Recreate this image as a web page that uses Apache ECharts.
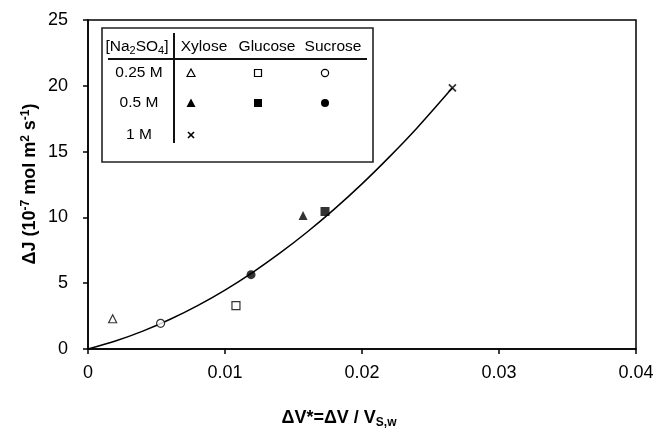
<!DOCTYPE html>
<html>
<head>
<meta charset="utf-8">
<script src="https://cdn.jsdelivr.net/npm/echarts@6/dist/echarts.min.js"></script>
<style>
  html, body { margin: 0; padding: 0; background: #fff; }
  #chart { width: 658px; height: 430px; }
</style>
</head>
<body>
<div id="chart"></div>
<script>
// Flux increase ΔJ against relative volume change ΔV*, per sugar and Na2SO4 concentration
const sugars = ['Xylose', 'Glucose', 'Sucrose'];
const concentrations = ['0.25 M', '0.5 M', '1 M'];

// [ΔV*, ΔJ] pairs
const xylose025 = [[0.0018, 2.3]];
const glucose025 = [[0.0108, 3.3]];
const sucrose025 = [[0.0053, 1.95]];
const xylose05 = [[0.0157, 10.15]];
const glucose05 = [[0.0173, 10.45]];
const sucrose05 = [[0.0119, 5.65]];
const xylose1 = [[0.0266, 19.85]];

// trend curve
const curveX = [0, 0.002, 0.004, 0.006, 0.008, 0.010, 0.012, 0.014, 0.016, 0.018, 0.020, 0.022, 0.024, 0.0266];
const curveY = [0, 0.61, 1.36, 2.26, 3.3, 4.48, 5.81, 7.28, 8.89, 10.65, 12.55, 14.6, 16.78, 19.85];

const xTicks = [0, 0.01, 0.02, 0.03, 0.04];
const yTicks = [0, 5, 10, 15, 20, 25];

const chart = echarts.init(document.getElementById('chart'), null, { renderer: 'canvas' });

const FONT = '"Liberation Sans", Arial, sans-serif';
const crossPath = 'path://M0,0L10,10M10,0L0,10';

function openStyle() {
  return { color: '#fff', borderColor: '#000', borderWidth: 1.2 };
}
function filledStyle() {
  return { color: '#000' };
}

// key table drawn inside the plot area
const box = { left: 102, top: 28, right: 373, bottom: 162 };
const colX = [191, 258, 325];
const rowY = [73, 103, 135];
const headerY = 47;

const tableText = { fontFamily: FONT, fontSize: 15.5, fill: '#000', align: 'center', verticalAlign: 'middle' };

const graphics = [
  { type: 'rect', shape: { x: box.left, y: box.top, width: box.right - box.left, height: box.bottom - box.top },
    style: { fill: '#fff', stroke: '#222', lineWidth: 1.6 }, z: 10 },
  { type: 'line', shape: { x1: 108, y1: 59, x2: 367, y2: 59 }, style: { stroke: '#111', lineWidth: 2 }, z: 11 },
  { type: 'line', shape: { x1: 174, y1: 33, x2: 174, y2: 143 }, style: { stroke: '#111', lineWidth: 2 }, z: 11 },
  { type: 'text', x: 137, y: headerY, z: 11,
    style: Object.assign({}, tableText, {
      text: '[Na{sub|2}SO{sub|4}]',
      rich: { sub: { fontFamily: FONT, fontSize: 11, padding: [8, 0, 0, 0] } }
    }) },
  { type: 'text', x: 204, y: headerY, z: 11, style: Object.assign({}, tableText, { text: sugars[0] }) },
  { type: 'text', x: 267, y: headerY, z: 11, style: Object.assign({}, tableText, { text: sugars[1] }) },
  { type: 'text', x: 333, y: headerY, z: 11, style: Object.assign({}, tableText, { text: sugars[2] }) }
];
concentrations.forEach(function (c, i) {
  graphics.push({ type: 'text', x: 139, y: rowY[i], z: 11, style: Object.assign({}, tableText, { text: c }) });
});
// row 0.25 M: open symbols
graphics.push(
  { type: 'polygon', z: 11, shape: { points: [[colX[0], rowY[0] - 4], [colX[0] + 4, rowY[0] + 3.5], [colX[0] - 4, rowY[0] + 3.5]] },
    style: { fill: '#fff', stroke: '#000', lineWidth: 1.2 } },
  { type: 'rect', z: 11, shape: { x: colX[1] - 3.5, y: rowY[0] - 3.5, width: 7, height: 7 },
    style: { fill: '#fff', stroke: '#000', lineWidth: 1.2 } },
  { type: 'circle', z: 11, shape: { cx: colX[2], cy: rowY[0], r: 3.6 },
    style: { fill: '#fff', stroke: '#000', lineWidth: 1.2 } }
);
// row 0.5 M: filled symbols
graphics.push(
  { type: 'polygon', z: 11, shape: { points: [[colX[0], rowY[1] - 4.5], [colX[0] + 4.5, rowY[1] + 4], [colX[0] - 4.5, rowY[1] + 4]] },
    style: { fill: '#000' } },
  { type: 'rect', z: 11, shape: { x: colX[1] - 4, y: rowY[1] - 4, width: 8, height: 8 }, style: { fill: '#000' } },
  { type: 'circle', z: 11, shape: { cx: colX[2], cy: rowY[1], r: 4 }, style: { fill: '#000' } }
);
// row 1 M: cross
graphics.push(
  { type: 'polyline', z: 11, shape: { points: [[colX[0] - 3, rowY[2] - 3], [colX[0] + 3, rowY[2] + 3]] }, style: { stroke: '#000', lineWidth: 1.6 } },
  { type: 'polyline', z: 11, shape: { points: [[colX[0] + 3, rowY[2] - 3], [colX[0] - 3, rowY[2] + 3]] }, style: { stroke: '#000', lineWidth: 1.6 } }
);
// y axis title, rotated
graphics.push({
  type: 'text', x: 30, y: 184, rotation: Math.PI / 2,
  style: {
    text: 'ΔJ (10{sup|-7} mol m{sup|2} s{sup|-1})',
    fontFamily: FONT, fontSize: 18, fontWeight: 'bold', fill: '#000',
    align: 'center', verticalAlign: 'middle',
    rich: { sup: { fontFamily: FONT, fontSize: 12, fontWeight: 'bold', padding: [0, 0, 8, 0] } }
  }
});
// x axis title
graphics.push({
  type: 'text', x: 339, y: 418,
  style: {
    text: 'ΔV*=ΔV / V{sub|S,w}',
    fontFamily: FONT, fontSize: 18, fontWeight: 'bold', fill: '#000',
    align: 'center', verticalAlign: 'middle',
    rich: { sub: { fontFamily: FONT, fontSize: 12, fontWeight: 'bold', padding: [9, 0, 0, 0] } }
  }
});

const axisCommon = {
  axisLine: { show: true, lineStyle: { color: '#000', width: 1.5 } },
  axisTick: { show: true, inside: false, length: 5, lineStyle: { color: '#000', width: 1.5 } },
  splitLine: { show: false },
  axisLabel: { color: '#000', fontFamily: FONT, fontSize: 18 }
};

chart.setOption({
  animation: false,
  backgroundColor: '#fff',
  grid: { left: 88, right: 22, top: 20, bottom: 81, show: true, borderColor: '#000', borderWidth: 1.5 },
  xAxis: Object.assign({}, axisCommon, {
    type: 'value', min: xTicks[0], max: xTicks[xTicks.length - 1], interval: 0.01,
    axisLabel: Object.assign({}, axisCommon.axisLabel, { margin: 15,
      formatter: function (v) { return String(+v.toFixed(2)); } })
  }),
  yAxis: Object.assign({}, axisCommon, {
    type: 'value', min: yTicks[0], max: yTicks[yTicks.length - 1], interval: 5,
    axisLabel: Object.assign({}, axisCommon.axisLabel, { margin: 20 })
  }),
  graphic: graphics,
  series: [
    { type: 'line', data: curveX.map(function (x, i) { return [x, curveY[i]]; }), smooth: 0.3,
      showSymbol: false, lineStyle: { color: '#000', width: 1.5 }, z: 2, silent: true },
    { name: 'Xylose 0.25 M', type: 'scatter', data: xylose025, symbol: 'triangle', symbolSize: 8, itemStyle: openStyle(), z: 3 },
    { name: 'Glucose 0.25 M', type: 'scatter', data: glucose025, symbol: 'rect', symbolSize: 8, itemStyle: openStyle(), z: 3 },
    { name: 'Sucrose 0.25 M', type: 'scatter', data: sucrose025, symbol: 'circle', symbolSize: 8, itemStyle: openStyle(), z: 3 },
    { name: 'Xylose 0.5 M', type: 'scatter', data: xylose05, symbol: 'triangle', symbolSize: 9, itemStyle: filledStyle(), z: 3 },
    { name: 'Glucose 0.5 M', type: 'scatter', data: glucose05, symbol: 'rect', symbolSize: 9, itemStyle: filledStyle(), z: 3 },
    { name: 'Sucrose 0.5 M', type: 'scatter', data: sucrose05, symbol: 'circle', symbolSize: 9, itemStyle: filledStyle(), z: 3 },
    { name: 'Xylose 1 M', type: 'scatter', data: xylose1, symbol: crossPath, symbolSize: 7,
      itemStyle: { color: '#000', borderColor: '#000', borderWidth: 1.8 }, z: 3 }
  ]
});
</script>
</body>
</html>
